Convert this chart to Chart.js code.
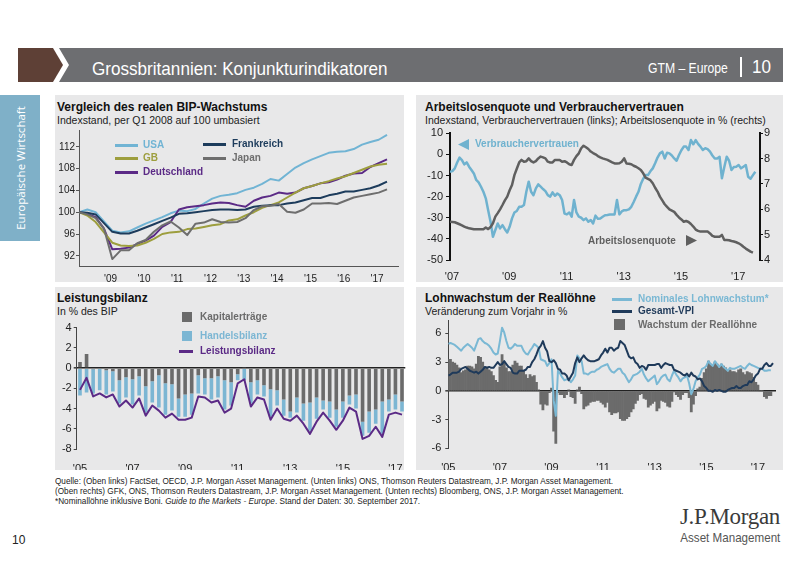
<!DOCTYPE html>
<html><head><meta charset="utf-8">
<script src="https://cdn.jsdelivr.net/npm/chart.js@4.4.0/dist/chart.umd.min.js"></script>
<style>
html,body{margin:0;padding:0;background:#fff}
body{width:800px;height:566px;position:relative;overflow:hidden;font-family:"Liberation Sans",Arial,sans-serif;color:#111}
.a{position:absolute;white-space:nowrap}
.panel{position:absolute;background:#e8e8e9}
.t{position:absolute;white-space:nowrap;font-weight:bold;font-size:12px;color:#111;line-height:14px}
.s{position:absolute;white-space:nowrap;font-size:10.5px;color:#222;line-height:12px}
.lg{position:absolute;white-space:nowrap;font-weight:bold;font-size:10px;line-height:12px}
.ln{position:absolute;height:3px}
canvas{position:absolute}
.nl{transform-origin:0 0}
.nr{transform-origin:100% 0}
</style></head><body>

<svg class="a" style="left:0;top:0" width="800" height="90">
 <polygon points="18,48 53,48 63,65 53,82 18,82" fill="#5e4036"/>
 <polygon points="59,48 783,48 783,82 59,82 69,65" fill="#6d6e71"/>
</svg>
<div class="a nl" style="left:92px;top:57px;font-size:19px;color:#fff;line-height:24px;transform:scaleX(0.9)">Grossbritannien: Konjunkturindikatoren</div>
<div class="a nl" style="left:648px;top:59px;font-size:14px;color:#fff;line-height:18px;transform:scaleX(0.87)">GTM – Europe</div>
<div class="a" style="left:740px;top:57px;width:2px;height:20px;background:#fff"></div>
<div class="a nl" style="left:752px;top:55px;font-size:19px;color:#fff;line-height:24px;transform:scaleX(0.9)">10</div>

<div class="a" style="left:0;top:95px;width:40px;height:146px;background:#7fb0c8"></div>
<div class="a" style="left:20px;top:168px;transform:translate(-50%,-50%) rotate(-90deg);color:#fff;font-family:'Open Sans',sans-serif;font-size:11.5px">Europäische Wirtschaft</div>

<div class="panel" style="left:55px;top:95px;width:349px;height:187px"></div>
<div class="panel" style="left:416px;top:95px;width:367px;height:187px"></div>
<div class="panel" style="left:55px;top:287px;width:349px;height:183px"></div>
<div class="panel" style="left:416px;top:287px;width:367px;height:183px"></div>

<div class="t" style="left:57px;top:100px">Vergleich des realen BIP-Wachstums</div>
<div class="s" style="left:57px;top:114px">Indexstand, per Q1 2008 auf 100 umbasiert</div>
<div class="t" style="left:425px;top:100px">Arbeitslosenquote und Verbrauchervertrauen</div>
<div class="s" style="left:425px;top:114px">Indexstand, Verbrauchervertrauen (links); Arbeitslosenquote in % (rechts)</div>
<div class="t" style="left:57px;top:291px">Leistungsbilanz</div>
<div class="s" style="left:57px;top:305px">In % des BIP</div>
<div class="t" style="left:425px;top:291px">Lohnwachstum der Reallöhne</div>
<div class="s" style="left:425px;top:305px">Veränderung zum Vorjahr in %</div>

<canvas id="c1" width="349" height="187" style="left:55px;top:95px"></canvas>
<canvas id="c2" width="367" height="187" style="left:416px;top:95px"></canvas>
<canvas id="c3" width="352" height="183" style="left:55px;top:287px"></canvas>
<canvas id="c4" width="367" height="183" style="left:416px;top:287px"></canvas>

<!-- legends TL -->
<div class="ln" style="left:115px;top:144px;width:23px;background:#71b4d4"></div>
<div class="lg" style="left:143px;top:139px;color:#71b4d4">USA</div>
<div class="ln" style="left:115px;top:157px;width:23px;background:#9d9e3e"></div>
<div class="lg" style="left:143px;top:152px;color:#9d9e3e">GB</div>
<div class="ln" style="left:115px;top:171px;width:23px;background:#5b2a86"></div>
<div class="lg" style="left:143px;top:166px;color:#5b2a86">Deutschland</div>
<div class="ln" style="left:203px;top:143px;width:23px;background:#1d3c5c"></div>
<div class="lg" style="left:232px;top:138px;color:#1d3c5c">Frankreich</div>
<div class="ln" style="left:203px;top:157px;width:23px;background:#6e6e6e"></div>
<div class="lg" style="left:232px;top:152px;color:#6e6e6e">Japan</div>

<!-- annotations TR -->
<svg class="a" style="left:456px;top:138px" width="14" height="14"><polygon points="2,6.5 13,1 13,12" fill="#6fb2cf"/></svg>
<div class="lg" style="left:475px;top:138px;color:#6fb2cf">Verbrauchervertrauen</div>
<div class="lg" style="left:588px;top:235px;color:#5f5f5f">Arbeitslosenquote</div>
<svg class="a" style="left:685px;top:234px" width="14" height="14"><polygon points="1,1 12,6.5 1,12" fill="#5f5f5f"/></svg>

<!-- legends BL -->
<div class="a" style="left:182px;top:312px;width:10px;height:10px;background:#6b6b6b"></div>
<div class="lg" style="left:200px;top:311px;color:#6b6b6b">Kapitalerträge</div>
<div class="a" style="left:182px;top:331px;width:10px;height:10px;background:#7cb6d3"></div>
<div class="lg" style="left:200px;top:330px;color:#7cb6d3">Handelsbilanz</div>
<div class="ln" style="left:179px;top:350px;width:14px;background:#5b2a86"></div>
<div class="lg" style="left:200px;top:345px;color:#5b2a86">Leistungsbilanz</div>

<!-- legends BR -->
<div class="ln" style="left:612px;top:298px;width:20px;background:#7ab8d4"></div>
<div class="lg" style="left:638px;top:293px;color:#7ab8d4">Nominales Lohnwachstum*</div>
<div class="ln" style="left:612px;top:310px;width:20px;background:#1f3a5a"></div>
<div class="lg" style="left:638px;top:305px;color:#1f3a5a">Gesamt-VPI</div>
<div class="a" style="left:614px;top:319px;width:11px;height:11px;background:#6b6b6b"></div>
<div class="lg" style="left:638px;top:319px;color:#6b6b6b">Wachstum der Reallöhne</div>

<!-- footer -->
<div class="a nl" style="left:55px;top:476px;font-size:9px;line-height:10px;color:#222;transform:scaleX(0.91)">Quelle: (Oben links) FactSet, OECD, J.P. Morgan Asset Management. (Unten links) ONS, Thomson Reuters Datastream, J.P. Morgan Asset Management.<br>(Oben rechts) GFK, ONS, Thomson Reuters Datastream, J.P. Morgan Asset Management. (Unten rechts) Bloomberg, ONS, J.P. Morgan Asset Management.<br>*Nominallöhne inklusive Boni. <i>Guide to the Markets - Europe</i>. Stand der Daten: 30. September 2017.</div>
<div class="a" style="left:12px;top:533px;font-size:12px;color:#222">10</div>
<div class="a" style="right:20px;top:504px;font-family:'Liberation Serif','DejaVu Serif',serif;font-size:23px;color:#3a3a3a;line-height:26px;letter-spacing:-0.3px">J.P.Morgan</div>
<div class="a nr" style="right:20px;top:530px;font-size:13.5px;color:#555;line-height:16px;transform:scaleX(0.86)">Asset Management</div>

<script>
// ---------- Data: top left (quarterly, Q1 2008 = 100) ----------
const TL_START = 2008;
const USA = [100.0,100.5,100.0,98.3, 96.6,96.3,96.5,97.2, 97.9,98.5,99.1,99.8, 100.3,100.2,100.6,101.6, 102.5,103.0,103.2,103.5, 104.1,104.5,105.2,106.1, 105.8,107.0,108.2,109.0, 109.7,110.3,110.9,111.1, 111.2,111.6,112.4,112.9, 113.3,114.2];
const GB = [100.0,99.4,98.2,96.3, 94.4,93.9,93.8,93.9, 94.4,95.1,96.0,96.3, 96.4,96.9,97.0,97.3, 97.6,97.8,98.5,98.7, 99.4,100.0,100.8,101.3, 101.8,102.7,103.6,104.4, 104.8,105.3,105.7,106.2, 106.6,107.2,107.8,108.4, 108.7,108.9];
const DEUTSCHLAND = [100.0,99.7,99.1,97.0, 93.2,93.3,93.5,94.2, 94.8,95.7,97.3,98.2, 100.5,100.9,101.1,101.3, 101.6,101.8,101.7,101.3, 101.0,102.1,102.7,103.0, 103.6,103.4,103.6,104.4, 104.8,105.3,105.5,106.0, 106.7,107.1,107.2,108.3, 109.0,109.7];
const FRANKREICH = [100.0,99.9,99.6,98.0, 96.4,96.1,96.1,96.6, 97.2,97.8,98.4,99.0, 99.7,99.8,100.0,100.2, 100.4,100.5,100.5,100.4, 100.5,101.0,101.2,101.3, 101.3,101.6,101.8,102.2, 102.6,102.6,103.1,103.4, 103.8,103.8,104.1,104.4, 104.9,105.6];
const JAPAN = [100.0,99.6,98.9,97.0, 91.4,93.0,93.0,94.3, 94.9,96.4,97.6,98.3, 97.2,95.8,97.9,98.1, 98.7,98.2,98.1,98.2, 98.9,100.4,101.1,101.2, 101.5,100.1,99.9,100.5, 101.6,101.6,101.7,101.5, 102.1,102.7,103.0,103.3, 103.6,104.2];
const TL_XTICK_YEARS = [2009,2010,2011,2012,2013,2014,2015,2016,2017];
const TL_XTICK_LABELS = ["'09","'10","'11","'12","'13","'14","'15","'16","'17"];
const TL_YTICKS = [92,96,100,104,108,112];

// ---------- Data: top right (monthly from Jan 2007) ----------
const TR_START = 2007;
const VERBRAUCHERVERTRAUEN = [
 -8.2,-7.9,-6.6,-3.8,-1.5,-2.7,-4.7,-3.8,-5.8,-7.4,-9.0,-12.1,
 -13.2,-15.3,-17.7,-20.8,-26.4,-31.9,-39.0,-35.8,-32.7,-35.0,-33.5,-35.4,
 -37.0,-34.3,-30.3,-27.5,-26.8,-24.8,-24.8,-24.0,-17.7,-12.9,-17.7,-19.3,
 -16.1,-14.2,-15.3,-16.4,-17.4,-19.3,-20.0,-18.0,-19.6,-18.5,-19.3,-21.6,
 -28.0,-28.4,-27.5,-29.5,-21.6,-27.5,-29.5,-30.0,-31.1,-30.3,-31.9,-31.1,
 -32.7,-29.0,-30.5,-30.3,-29.5,-28.8,-28.7,-28.5,-28.4,-28.4,-21.6,-28.4,
 -27.0,-26.4,-26.4,-26.0,-24.8,-22.5,-20.0,-17.7,-14.0,-11.5,-9.8,-9.8,
 -8.0,-6.6,-4.2,-1.5,0.5,1.3,-1.9,0.8,0.5,-0.5,-1.9,-3.0,
 -0.3,2.0,3.7,3.7,2.1,6.8,4.8,6.8,5.0,3.7,2.1,2.9,
 2.5,1.3,-0.5,-1.9,-1.9,-1.1,-11.3,-6.0,-1.1,-3.0,-7.4,-6.0,
 -5.8,-5.0,-6.6,-5.8,-5.0,-10.6,-11.5,-9.8,-8.2];
const ARBEITSLOSENQUOTE = [
 5.51,5.50,5.49,5.45,5.41,5.37,5.32,5.28,5.25,5.23,5.21,5.21,
 5.21,5.21,5.21,5.28,5.22,5.30,5.45,5.71,5.85,6.00,6.17,6.35,
 6.50,6.75,6.96,7.35,7.60,7.85,7.95,7.88,7.90,8.01,7.90,7.85,
 7.90,8.01,8.08,8.05,8.01,7.88,7.85,7.85,7.95,7.95,7.95,7.88,
 7.90,7.85,7.78,7.75,7.95,8.10,8.21,8.41,8.51,8.45,8.38,8.28,
 8.22,8.17,8.10,8.05,8.01,7.98,7.95,7.90,7.85,7.81,7.81,7.82,
 7.88,8.01,7.81,7.80,7.78,7.72,7.68,7.62,7.55,7.42,7.25,7.20,
 7.15,7.03,6.85,6.70,6.50,6.35,6.20,6.10,6.00,5.95,5.90,5.78,
 5.68,5.60,5.51,5.54,5.50,5.42,5.32,5.20,5.15,5.12,5.12,5.12,
 5.12,5.05,4.95,4.92,4.92,4.92,4.99,4.79,4.79,4.78,4.75,4.73,
 4.70,4.66,4.60,4.52,4.45,4.39,4.33,4.29];
const TR_XTICK_YEARS = [2007,2009,2011,2013,2015,2017];
const TR_XTICK_LABELS = ["'07","'09","'11","'13","'15","'17"];

// ---------- Data: bottom left (quarterly from Q1 2005, % of GDP) ----------
const BL_YEARS = [2005,2006,2007,2008,2009,2010,2011,2012,2013,2014,2015,2016,2017];
const KAPITALERTRAEGE = [0.6,1.4,-0.1,0.0, -0.2,-0.3,-1.2,-0.9, -1.1,-0.8,-1.8,-1.3, -0.7,-1.5,-1.6,-3.0, -2.6,-2.5,-0.7,-1.0, -1.0,-0.8,-1.2,-1.4, -0.6,0.1,-1.4,-1.2, -1.7,-2.1,-2.2,-3.1, -4.3,-2.9,-3.5,-3.4, -2.9,-3.2,-3.3,-4.1, -3.3,-2.7,-2.6,-5.3, -4.3,-4.1,-3.3,-3.1, -2.6,-3.3];
const HANDELSBILANZ = [-2.7,-2.4,-2.4,-2.2, -2.4,-2.0,-2.3,-2.0, -2.5,-1.9,-2.6,-2.1, -3.2,-3.1,-2.6,-1.8, -2.2,-2.1,-1.8,-1.6, -2.1,-2.1,-2.9,-2.3, -0.6,-1.2,-2.1,-1.4, -1.1,-2.7,-1.5,-1.6, -0.6,-1.5,-1.7,-2.8, -2.1,-0.9,-1.6,-1.7, -1.6,-0.9,-1.4,-1.4, -2.1,-1.4,-3.2,-1.2, -1.5,-1.0];
const LEISTUNGSBILANZ = [-2.15,-0.96,-2.8,-2.5, -2.9,-2.6,-3.8,-3.2, -3.9,-3.0,-4.7,-3.7, -4.2,-4.9,-4.5,-5.1, -5.1,-4.9,-2.8,-2.9, -3.4,-3.2,-4.4,-4.0, -1.5,-1.1,-3.8,-2.9, -3.1,-5.1,-4.0,-5.0, -5.2,-4.7,-5.5,-6.5, -5.3,-4.4,-5.2,-6.1, -5.2,-3.9,-4.3,-7.0, -6.7,-5.8,-6.8,-4.6, -4.4,-4.6];
const BL_XTICK_LABELS = {2005:"'05",2007:"'07",2009:"'09",2011:"'11",2013:"'13",2015:"'15",2017:"'17"};

// ---------- Data: bottom right (monthly from Jan 2005, % y/y) ----------
const BR_START = 2005;
const NOMINALLOHN = [
 4.9,5.0,4.9,4.8,4.6,4.4,4.2,4.5,4.7,4.9,4.7,4.5,
 4.2,4.8,5.4,5.5,5.2,5.0,4.9,4.7,4.4,4.0,3.8,3.9,
 5.2,6.6,6.1,5.2,4.5,4.4,4.6,4.9,4.7,4.7,4.7,4.2,
 3.9,3.8,4.2,4.5,4.9,4.7,4.5,3.3,3.2,3.1,2.6,2.9,
 3.3,-1.0,-2.6,2.1,1.8,1.4,1.1,1.2,1.2,0.9,1.2,1.6,
 3.7,3.4,3.1,1.8,1.8,1.7,1.9,2.0,2.0,2.2,2.3,2.5,
 2.6,2.7,2.8,2.3,2.0,1.9,2.1,2.3,2.3,1.9,1.7,1.3,
 0.9,1.2,1.6,1.7,1.8,2.0,2.3,1.7,1.3,1.0,1.2,1.4,
 1.6,0.7,1.0,1.4,1.6,1.7,1.2,1.0,1.6,2.1,1.7,1.4,
 1.0,1.3,1.4,1.6,0.8,-0.35,0.2,1.0,1.4,1.7,2.3,2.4,
 2.6,3.1,2.8,2.6,3.1,2.8,2.5,2.8,2.5,2.3,2.1,2.4,
 2.3,2.3,2.4,2.5,2.6,2.4,2.3,2.6,2.85,2.7,2.6,2.5,
 2.4,2.3,2.3,2.1,2.1,2.15,2.15];
const GESAMT_VPI = [
 1.6,1.7,1.9,1.9,1.9,2.0,2.3,2.4,2.5,2.3,2.1,2.0,
 1.9,2.0,1.8,2.0,2.2,2.5,2.4,2.5,2.4,2.4,2.7,3.0,
 2.7,2.8,3.1,2.8,2.5,2.4,1.9,1.8,1.8,2.1,2.1,2.1,
 2.2,2.5,2.5,3.0,3.3,3.8,4.4,4.7,5.2,4.5,4.1,3.1,
 3.0,3.2,2.9,2.3,2.2,1.8,1.8,1.6,1.1,1.5,1.9,2.9,
 3.5,3.0,3.4,3.7,3.4,3.2,3.1,3.1,3.1,3.2,3.3,3.7,
 4.0,4.4,4.0,4.5,4.5,4.2,4.4,4.5,5.2,5.0,4.8,4.2,
 3.6,3.4,3.5,3.0,2.8,2.4,2.6,2.5,2.2,2.7,2.7,2.7,
 2.7,2.8,2.8,2.4,2.7,2.9,2.8,2.7,2.7,2.2,2.1,2.0,
 1.9,1.7,1.6,1.8,1.5,1.9,1.6,1.5,1.2,1.3,1.0,0.5,
 0.3,0.0,0.0,-0.1,0.1,0.0,0.1,0.0,-0.1,-0.1,0.1,0.2,
 0.3,0.3,0.5,0.3,0.3,0.5,0.6,0.6,1.0,0.9,1.2,1.6,
 1.8,2.3,2.3,2.7,2.9,2.6,2.6,2.9];
const REALLOHN = [
 3.3,3.3,3.0,2.9,2.7,2.4,1.9,2.1,2.2,2.6,2.6,2.5,
 2.3,2.8,3.6,3.5,3.0,2.5,2.5,2.2,2.0,1.6,1.1,0.9,
 2.5,3.8,3.0,2.4,2.0,2.0,2.7,3.1,2.9,2.6,2.6,2.1,
 1.7,1.3,1.7,1.5,1.6,0.9,0.1,-1.4,-2.0,-1.4,-1.5,-0.2,
 0.3,-4.2,-5.5,-0.2,-0.4,-0.4,-0.7,-0.4,0.1,-0.6,-0.7,-1.3,
 0.1,0.4,-0.3,-1.9,-1.6,-1.5,-1.2,-1.1,-1.1,-1.0,-1.0,-1.2,
 -1.4,-1.7,-1.2,-2.2,-2.5,-2.3,-2.3,-2.2,-2.9,-3.1,-3.1,-2.9,
 -2.7,-2.2,-1.9,-1.3,-1.0,-0.4,-0.3,-0.8,-0.9,-1.7,-1.5,-1.3,
 -1.1,-2.1,-1.8,-1.0,-1.1,-1.2,-1.6,-1.7,-1.1,-0.1,-0.4,-0.6,
 -0.9,-0.4,-0.2,-0.2,-0.7,-2.2,-1.4,-0.5,0.2,0.4,1.3,1.9,
 2.3,3.1,2.8,2.7,3.0,2.8,2.4,2.8,2.6,2.4,2.0,2.2,
 2.0,2.0,1.9,2.2,2.3,1.9,1.7,2.0,1.9,1.8,1.4,0.9,
 0.6,0.0,0.0,-0.6,-0.8,-0.5,-0.5];
const BR_XTICK_YEARS = [2005,2007,2009,2011,2013,2015,2017];
const BR_XTICK_LABELS = ["'05","'07","'09","'11","'13","'15","'17"];
const BR_YTICKS = [-6,-3,0,3,6];

// ---------- helpers ----------
Chart.defaults.font.family = '"Liberation Sans", Arial, sans-serif';
Chart.defaults.color = '#222';
const pts = (arr, start, step) => arr.map((v, i) => ({x: start + i * step, y: v}));
const base = pad => ({
  responsive: false, animation: false,
  layout: {padding: pad},
  plugins: {legend: {display: false}, tooltip: {enabled: false}},
  elements: {point: {radius: 0}, line: {tension: 0, borderJoinStyle: 'round'}}
});
const zeroGrid = {
  drawOnChartArea: true, tickLength: 3, tickColor: '#444',
  color: c => (c.tick && c.tick.value === 0) ? '#222' : 'rgba(0,0,0,0)',
  lineWidth: c => (c.tick && c.tick.value === 0) ? 1.6 : 1
};

// ---------- Top left ----------
new Chart(document.getElementById('c1'), {
  type: 'line',
  data: {datasets: [
    {data: pts(JAPAN, TL_START, 0.25), borderColor: '#6e6e6e', borderWidth: 2},
    {data: pts(FRANKREICH, TL_START, 0.25), borderColor: '#1d3c5c', borderWidth: 2},
    {data: pts(GB, TL_START, 0.25), borderColor: '#9d9e3e', borderWidth: 2},
    {data: pts(DEUTSCHLAND, TL_START, 0.25), borderColor: '#5b2a86', borderWidth: 2},
    {data: pts(USA, TL_START, 0.25), borderColor: '#71b4d4', borderWidth: 2}
  ]},
  options: Object.assign(base({top: 35.5, right: 6, left: 0, bottom: 0}), {
    scales: {
      x: {type: 'linear', min: 2008, max: 2017.58,
        afterBuildTicks: s => { s.ticks = TL_XTICK_YEARS.map(v => ({value: v - 0.05})); },
        afterFit: s => { s.height = 15.3; },
        grid: {display: false}, border: {display: true, color: '#555', width: 1},
        ticks: {font: {size: 10}, padding: -1, maxRotation: 0, autoSkip: false,
          callback: (v, i) => TL_XTICK_LABELS[i]}},
      y: {min: 90, max: 115,
        afterBuildTicks: s => { s.ticks = TL_YTICKS.map(v => ({value: v})); },
        afterFit: s => { s.width = 24; },
        grid: {display: true, drawOnChartArea: false, tickLength: 3, color: '#555'},
        border: {color: '#555', width: 1},
        ticks: {font: {size: 10}, padding: 1}}
    }
  })
});

// ---------- Top right ----------
new Chart(document.getElementById('c2'), {
  type: 'line',
  data: {datasets: [
    {data: pts(ARBEITSLOSENQUOTE, TR_START, 1/12), borderColor: '#5f5f5f', borderWidth: 2.5, yAxisID: 'y1'},
    {data: pts(VERBRAUCHERVERTRAUEN, TR_START, 1/12), borderColor: '#6fb2cf', borderWidth: 2.5, yAxisID: 'y'}
  ]},
  options: Object.assign(base({top: 38.3, right: 0, left: 0, bottom: 0}), {
    scales: {
      x: {type: 'linear', min: 2007, max: 2017.83,
        afterBuildTicks: s => { s.ticks = TR_XTICK_YEARS.map(v => ({value: v + 0.07})); },
        afterFit: s => { s.height = 22; },
        grid: {display: false}, border: {display: false},
        ticks: {font: {size: 11}, padding: 2.5, maxRotation: 0, autoSkip: false,
          callback: (v, i) => TR_XTICK_LABELS[i]}},
      y: {position: 'left', min: -50, max: 10,
        afterFit: s => { s.width = 34; },
        grid: {display: true, drawOnChartArea: false, tickLength: 4, color: '#111'},
        border: {color: '#111', width: 2},
        ticks: {stepSize: 10, font: {size: 11}, padding: 3}},
      y1: {position: 'right', min: 4, max: 9,
        afterFit: s => { s.width = 23; },
        grid: {display: true, drawOnChartArea: false, tickLength: 3, color: '#111'},
        border: {color: '#111', width: 2},
        ticks: {stepSize: 1, font: {size: 11}, padding: 1}}
    }
  })
});

// ---------- Bottom left ----------
const BL_LABELS = [];
BL_YEARS.forEach(y => { for (let q = 1; q <= 4; q++) BL_LABELS.push(y + ' Q' + q); });
BL_LABELS.length = LEISTUNGSBILANZ.length;
new Chart(document.getElementById('c3'), {
  type: 'bar',
  data: {labels: BL_LABELS, datasets: [
    {type: 'line', data: LEISTUNGSBILANZ, borderColor: '#5b2a86', borderWidth: 2, stack: 'line', order: 0},
    {data: KAPITALERTRAEGE, backgroundColor: '#6b6b6b', stack: 'bars', order: 2, barPercentage: 0.55, categoryPercentage: 1},
    {data: HANDELSBILANZ, backgroundColor: '#7cb6d3', stack: 'bars', order: 2, barPercentage: 0.55, categoryPercentage: 1}
  ]},
  options: Object.assign(base({top: 40.7, right: 0, left: 0, bottom: 0}), {
    scales: {
      x: {stacked: true, afterFit: s => { s.height = 21; },
        grid: {display: false}, border: {display: false},
        ticks: {font: {size: 11}, padding: 5, maxRotation: 0, autoSkip: false,
          callback: (v, i) => { const l = BL_LABELS[i]; return l.endsWith('Q1') ? (BL_XTICK_LABELS[+l.slice(0,4)] || '') : ''; }}},
      y: {stacked: true, min: -8, max: 4,
        afterFit: s => { s.width = 21.7; },
        grid: zeroGrid, border: {color: '#444', width: 1},
        ticks: {stepSize: 2, font: {size: 11}, padding: 2}}
    }
  })
});

// ---------- Bottom right ----------
new Chart(document.getElementById('c4'), {
  type: 'bar',
  data: {datasets: [
    {type: 'line', data: pts(NOMINALLOHN, BR_START, 1/12), borderColor: '#7ab8d4', borderWidth: 2, order: 1},
    {type: 'line', data: pts(GESAMT_VPI, BR_START, 1/12), borderColor: '#1f3a5a', borderWidth: 2, order: 0},
    {type: 'bar', data: pts(REALLOHN, BR_START, 1/12), backgroundColor: '#6b6b6b', barPercentage: 1, categoryPercentage: 1, order: 2}
  ]},
  options: Object.assign(base({top: 33, right: 7, left: 0, bottom: 0}), {
    scales: {
      x: {type: 'linear', offset: false, min: 2005, max: 2017.70,
        afterBuildTicks: s => { s.ticks = BR_XTICK_YEARS.map(v => ({value: v})); },
        afterFit: s => { s.height = 21.7; },
        grid: {display: false}, border: {display: false},
        ticks: {font: {size: 11}, padding: 5, maxRotation: 0, autoSkip: false,
          callback: (v, i) => BR_XTICK_LABELS[i]}},
      y: {min: -6, max: 7.4,
        afterBuildTicks: s => { s.ticks = BR_YTICKS.map(v => ({value: v})); },
        afterFit: s => { s.width = 32.3; },
        grid: zeroGrid, border: {color: '#444', width: 1},
        ticks: {font: {size: 11}, padding: 4}}
    }
  })
});
</script>
</body></html>
